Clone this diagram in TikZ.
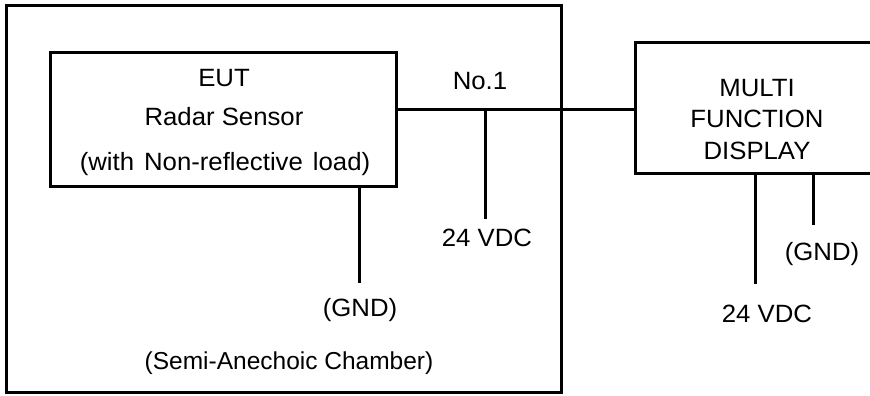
\documentclass[tikz,border=0pt]{standalone}
\usepackage{fontspec}
\setmainfont{Liberation Sans}[FakeStretch=1.03]
\newfontfamily\chamberfont{Liberation Sans}
\begin{document}
\begin{tikzpicture}[x=1pt,y=-1pt,
  wire/.style={line width=3pt},
  boxline/.style={draw,line width=3pt},
  lbl/.style={font=\fontsize{25}{30}\selectfont,inner sep=0pt,anchor=base}]
\useasboundingbox (0,0) rectangle (870,396);
\clip (0,0) rectangle (870,396);
\fill[white] (0,0) rectangle (870,396);
% chamber
\draw[boxline] (6,6) rectangle (561,392);
% EUT
\node[boxline,minimum width=346pt,minimum height=133pt,inner sep=0pt] (eut) at (223,119.5) {};
\node[lbl] (eutt) at (224,86) {EUT};
\node[lbl] (rad) at (224,125) {Radar Sensor};
\node[lbl] (load) at (225,170) {(with\hskip 10pt Non-reflective\hskip 10pt load)};
% MFD
\node[boxline,minimum width=300pt,minimum height=130pt,inner sep=0pt] (mfd) at (785,108) {};
\node[lbl] (m1) at (757,96) {MULTI};
\node[lbl] (m2) at (757,127) {FUNCTION};
\node[lbl] (m3) at (757,159) {DISPLAY};
% cable
\coordinate (j1) at (485,109);
\draw[wire] (eut.east |- j1) -- (mfd.west |- j1);
\node[lbl] (no1) at (480,89) {No.1};
\coordinate (v1) at (485,219);
\draw[wire] (j1) -- (v1);
\node[lbl] (vdc1) at (487,246.5) {24 VDC};
% EUT GND
\coordinate (g1) at (359,283);
\draw[wire] (g1 |- eut.south) -- (g1);
\node[lbl] (gnd1) at (360,316.5) {(GND)};
\node[lbl,font=\chamberfont\fontsize{24.5}{30}\selectfont] (cham) at (289,369) {(Semi-Anechoic Chamber)};
% MFD lines
\coordinate (v2) at (755,284);
\draw[wire] (v2 |- mfd.south) -- (v2);
\node[lbl] (vdc2) at (767,322.5) {24 VDC};
\coordinate (g2) at (813,225);
\draw[wire] (g2 |- mfd.south) -- (g2);
\node[lbl] (gnd2) at (822,260) {(GND)};
\end{tikzpicture}
\end{document}
